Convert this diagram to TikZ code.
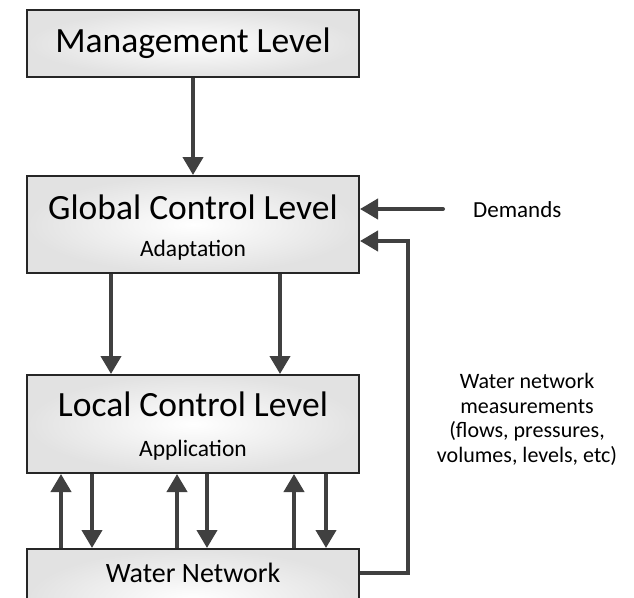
\documentclass[tikz,border=0pt]{standalone}
\usepackage{fontspec}
\setmainfont{Carlito}
\usetikzlibrary{arrows.meta}
\definecolor{arrowgray}{HTML}{404040}
\definecolor{boxline}{HTML}{262626}
\definecolor{boxedge}{HTML}{E2E2E2}
\tikzset{
  levelbox/.style={draw=boxline, line width=2pt, inner color=white, outer color=boxedge,
    rectangle, inner sep=0pt, minimum width=332pt},
  bigtext/.style={font=\fontsize{35.5}{40}\selectfont, inner sep=0pt, text=black},
  smalltext/.style={font=\fontsize{23.5}{28}\selectfont, inner sep=0pt, text=black},
  sidetext/.style={font=\fontsize{22}{24.5}\selectfont, inner sep=0pt, text=black},
  arr/.style={draw=arrowgray, line width=4pt, -{Triangle[length=18pt,width=20pt]}},
}
\begin{document}
\begin{tikzpicture}[x=1pt,y=-1pt]
\useasboundingbox (0,0) rectangle (634,597);
\clip (0,0) rectangle (634,597);

% boxes of the control hierarchy
\node[levelbox, minimum height=67pt] (mgmt) at (193,43.5) {};
\node[bigtext] (mgmtT) at (193,43.5) {Management Level};

\node[levelbox, minimum height=97pt] (glob) at (193,224.5) {};
\node[bigtext] (globT) at (193,207) {Global Control Level};
\node[smalltext] (globS) at (193,250) {Adaptation};

\node[levelbox, minimum height=98pt] (loc) at (193,424) {};
\node[bigtext] (locT) at (193,404) {Local Control Level};
\node[smalltext] (locS) at (193,450) {Application};

\node[levelbox, minimum height=102pt] (wat) at (193,600) {};
\node[font=\fontsize{28}{32}\selectfont, inner sep=0pt] (watT) at (193,573) {Water Network};

% side labels
\node[sidetext, font=\fontsize{23}{28}\selectfont, anchor=west] (dem) at (473,210) {Demands};
\node[sidetext, align=center] (meas) at (527,419.5)
  {Water network\\measurements\\(flows, pressures,\\volumes, levels, etc)};

% connectors
\draw[arr] (mgmt.south) -- (glob.north);
\draw[arr] (111,0 |- glob.south) -- (111,0 |- loc.north);
\draw[arr] (280,0 |- glob.south) -- (280,0 |- loc.north);

\coordinate (demstart) at (443,209);
\draw[arr, line cap=round] (demstart) -- (glob.east |- demstart);

\coordinate (fbturn) at (408,241);
\draw[arr, line join=miter] (wat.east |- watT) -| (fbturn) -- (glob.east |- fbturn);

% exchanges between local control and the network
\foreach \u/\d in {61/92, 177/207, 294/326} {
  \draw[arr] (\u,0 |- wat.north) -- (\u,0 |- loc.south);
  \draw[arr] (\d,0 |- loc.south) -- (\d,0 |- wat.north);
}
\end{tikzpicture}
\end{document}
